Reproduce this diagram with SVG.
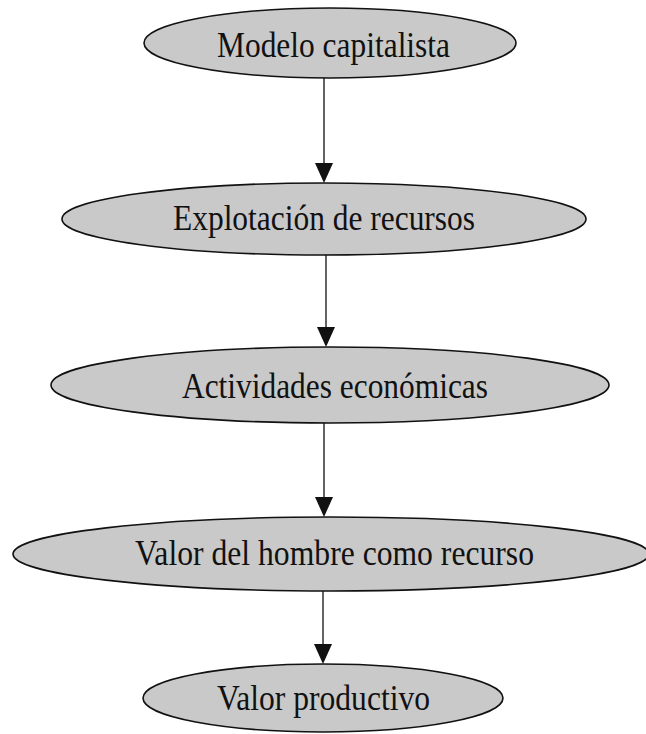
<svg xmlns="http://www.w3.org/2000/svg" width="646" height="734" viewBox="0 0 646 734">
<defs>
<style>
.node ellipse{fill:#c9c9c9;stroke:#111;stroke-width:1.6}
.node text{font-family:"Liberation Serif","Times New Roman",serif;font-size:35px;fill:#111}
.conn line{stroke:#222;stroke-width:1.4}
.conn path{fill:#111}
</style>
</defs>
<rect width="646" height="734" fill="#fff"/>
<g id="connectors" class="conn">
<line x1="324" y1="78" x2="324" y2="170"/>
<path d="M315,163 L333,163 L324,183 Z"/>
<line x1="326" y1="255" x2="326" y2="334"/>
<path d="M317,327 L335,327 L326,347 Z"/>
<line x1="324" y1="423" x2="324" y2="504"/>
<path d="M315,497 L333,497 L324,517 Z"/>
<line x1="323" y1="591" x2="323" y2="651"/>
<path d="M314,644 L332,644 L323,664 Z"/>
</g>
<g id="n1" class="node">
<ellipse cx="330" cy="43" rx="186" ry="35"/>
<text x="217" y="57" textLength="233" lengthAdjust="spacingAndGlyphs">Modelo capitalista</text>
</g>
<g id="n2" class="node">
<ellipse cx="324" cy="219" rx="262" ry="36"/>
<text x="173" y="230" textLength="302" lengthAdjust="spacingAndGlyphs">Explotación de recursos</text>
</g>
<g id="n3" class="node">
<ellipse cx="330" cy="385" rx="279" ry="38"/>
<text x="182" y="398" textLength="306" lengthAdjust="spacingAndGlyphs">Actividades económicas</text>
</g>
<g id="n4" class="node">
<ellipse cx="331" cy="554" rx="318" ry="37"/>
<text x="135" y="565" textLength="399" lengthAdjust="spacingAndGlyphs">Valor del hombre como recurso</text>
</g>
<g id="n5" class="node">
<ellipse cx="323" cy="698" rx="180" ry="34"/>
<text x="217" y="710" textLength="213" lengthAdjust="spacingAndGlyphs">Valor productivo</text>
</g>
</svg>
